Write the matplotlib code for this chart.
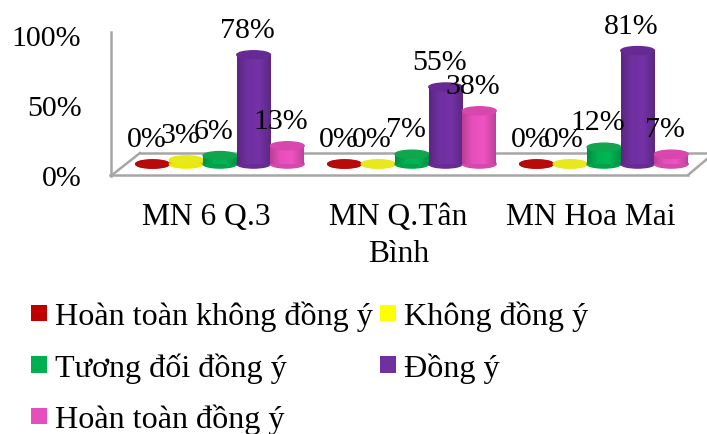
"""3D-look cylinder chart: survey answers per school, in percent."""
import numpy as np
import matplotlib.pyplot as plt
from matplotlib.colors import to_rgb
from matplotlib.legend_handler import HandlerPatch
from matplotlib.lines import Line2D
from matplotlib.patches import Ellipse, Patch

schools = ['MN 6 Q.3', 'MN Q.Tân\nBình', 'MN Hoa Mai']
answers = ['Hoàn toàn không đồng ý', 'Không đồng ý', 'Tương đối đồng ý', 'Đồng ý', 'Hoàn toàn đồng ý']
colors = ['#c00000', '#ffff00', '#00b050', '#7030a0', '#e64fbb']
top_colors = ['#b80a0a', '#e8e81e', '#0fa64e', '#672a94', '#d847ad']

disagree_full = [0, 0, 0]
disagree = [3, 0, 0]
neutral = [6, 7, 12]
agree = [78, 55, 81]
agree_full = [13, 38, 7]
series = [disagree_full, disagree, neutral, agree, agree_full]

W, H = 707, 435
plt.rcParams['font.family'] = ['Liberation Serif', 'DejaVu Serif']
fs = 21.5

fig = plt.figure(figsize=(W / 100, H / 100), dpi=100)
ax = fig.add_axes([110.5 / W, 1 - 176.5 / H, (707 - 110.5) / W, 143.5 / H])
ax.patch.set_alpha(0)

x = np.arange(len(schools))
bar_w = 0.1755
depth_x = 0.07     # bars sit deeper than the labels
depth_y = 8.2      # same thing in percent units
cap_h = 5.8

# dark edges, lighter middle
shade = np.interp(np.linspace(0, 1, 64), [0, 0.3, 0.65, 1], [0.8, 1.0, 1.04, 0.82])


def cylinder(xc, val, j):
    base = np.array(to_rgb(colors[j]))
    z = 3 + j
    ax.add_patch(Ellipse((xc, depth_y), bar_w, cap_h, color=base * 0.92, zorder=z, clip_on=False))
    if val > 0:
        rect = ax.bar(xc, val, bar_w, bottom=depth_y, color=colors[j], zorder=z)[0]
        img = np.clip(shade[None, :, None] * base[None, None, :], 0, 1)
        im = ax.imshow(img, extent=[xc - bar_w / 2, xc + bar_w / 2, depth_y, depth_y + val],
                       aspect='auto', zorder=z)
        im.set_clip_path(rect)
    ax.add_patch(Ellipse((xc, depth_y + val), bar_w, cap_h, color=top_colors[j], zorder=z, clip_on=False))
    ax.annotate(f'{val}%', xy=(xc, depth_y + val), xytext=(-4.5, 18), textcoords='offset points',
                ha='center', va='center', fontsize=fs, color='black', zorder=20)


for j, vals in enumerate(series):
    for i, val in enumerate(vals):
        cylinder(x[i] + depth_x + (j - 2) * bar_w, val, j)

ax.set_xlim((110.5 - 206.5) / 192, (707 - 206.5) / 192)
ax.set_ylim(0, 102.5)
ax.set_yticks([0, 50, 100])
ax.set_yticklabels(['0%', '50%', '100%'], fontsize=fs)
ax.set_xticks(x)
ax.set_xticklabels(schools, fontsize=22.7, linespacing=1.35)
ax.tick_params(axis='both', length=0)
ax.tick_params(axis='y', pad=21)
ax.tick_params(axis='x', pad=19)
for name in ['top', 'right', 'bottom']:
    ax.spines[name].set_visible(False)
ax.spines['left'].set_color('#a6a6a6')
ax.spines['left'].set_linewidth(1.8)

# floor of the 3D box, in pixel coordinates of the figure
floor = [([112, 140], [176, 154]), ([140, 707], [154, 154]),
         ([110, 688], [176, 176]), ([688, 707], [176, 160])]
for xs, ys in floor:
    fig.add_artist(Line2D(np.array(xs) / W, 1 - np.array(ys) / H, transform=fig.transFigure,
                          color='#a6a6a6', lw=1.8, zorder=-1))

order = [0, 2, 4, 1, 3]
handles = [Patch(facecolor=colors[k], label=answers[k]) for k in order]
fig.legend(handles=handles, ncol=2, loc='upper left', bbox_to_anchor=(31 / W, 1 - 302 / H),
           borderaxespad=0, borderpad=0, frameon=False, fontsize=23.1,
           handlelength=0.5, handleheight=0.347, handletextpad=0.234,
           columnspacing=0.25, labelspacing=0.64,
           handler_map={Patch: HandlerPatch(ypad=-0.03)})

fig.savefig('out.png', dpi=100)
